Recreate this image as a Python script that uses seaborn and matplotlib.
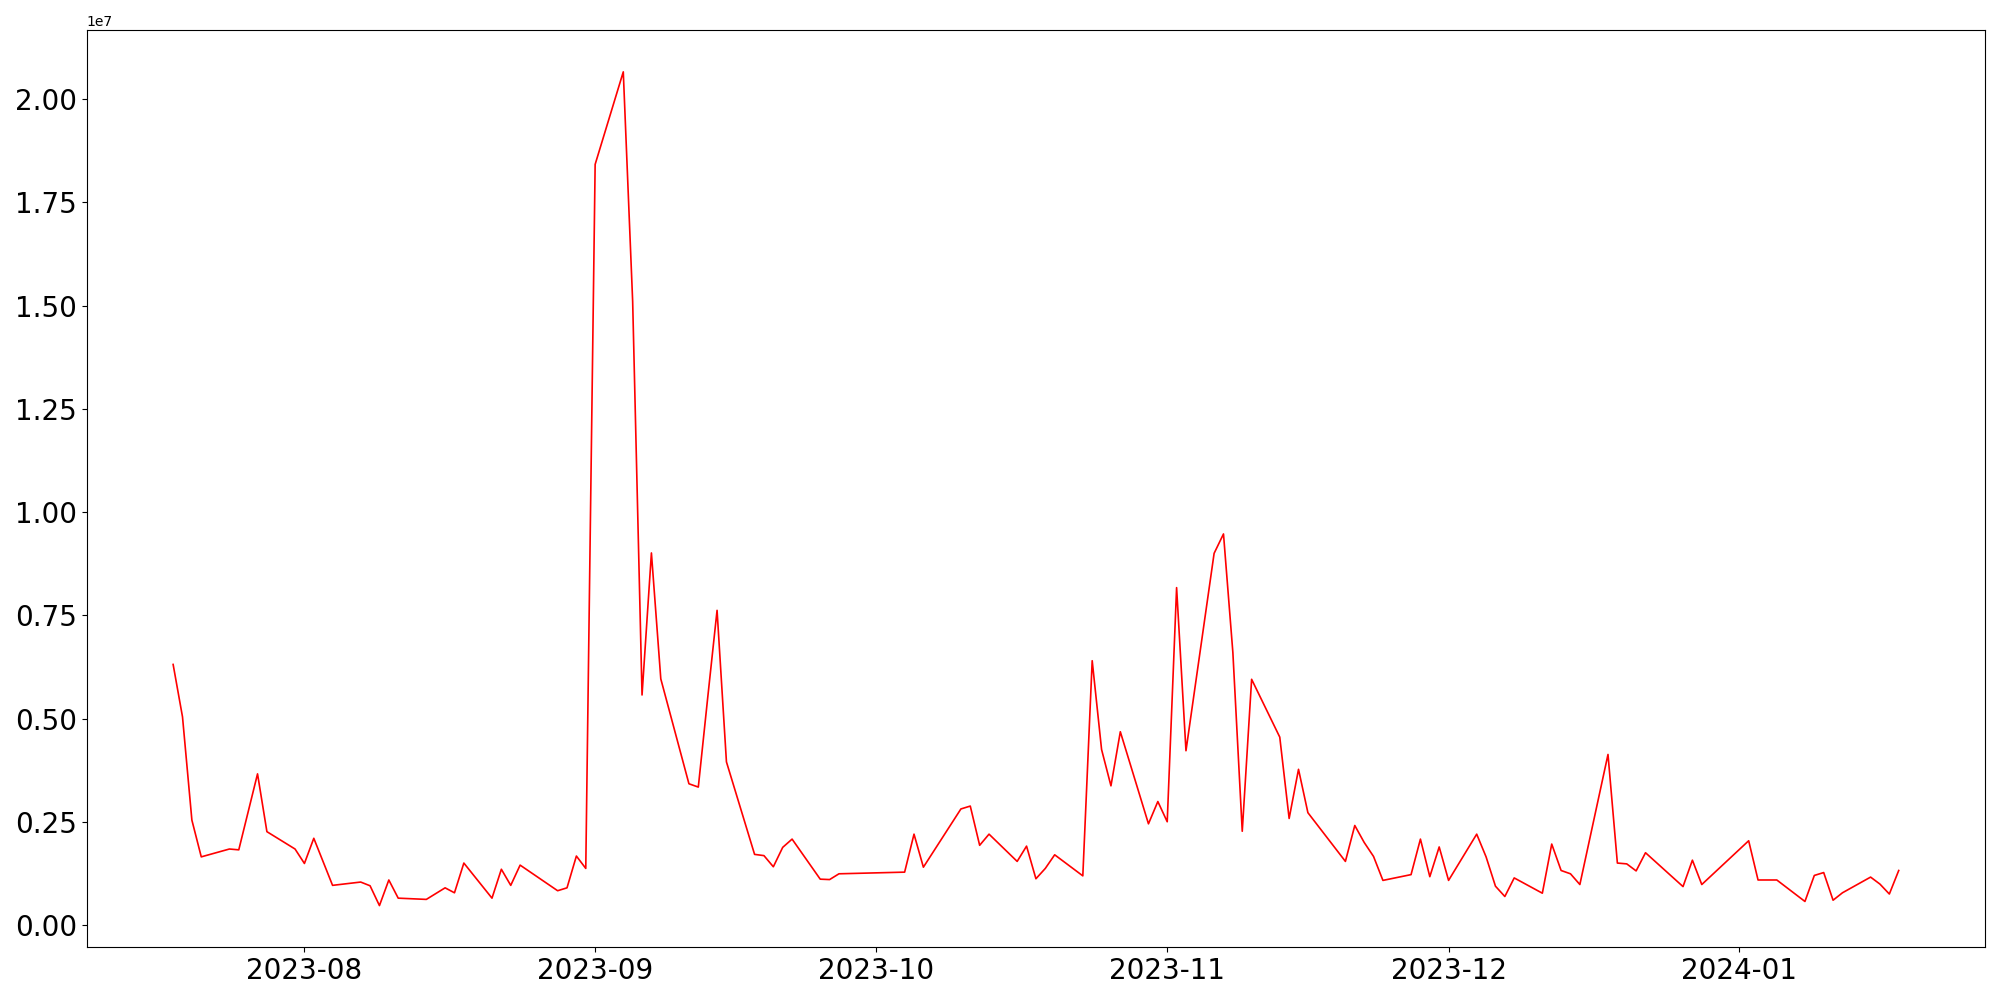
import matplotlib
matplotlib.use("Agg")
import matplotlib.pyplot as plt
import seaborn as sns
import pandas as pd

dates = [
    "2023-07-18", "2023-07-19", "2023-07-20", "2023-07-21", "2023-07-24", "2023-07-25",
    "2023-07-27", "2023-07-28", "2023-07-31", "2023-08-01", "2023-08-02", "2023-08-04",
    "2023-08-07", "2023-08-08", "2023-08-09", "2023-08-10", "2023-08-11", "2023-08-14",
    "2023-08-16", "2023-08-17", "2023-08-18", "2023-08-21", "2023-08-22", "2023-08-23",
    "2023-08-24", "2023-08-28", "2023-08-29", "2023-08-30", "2023-08-31", "2023-09-01",
    "2023-09-04", "2023-09-05", "2023-09-06", "2023-09-07", "2023-09-08", "2023-09-11",
    "2023-09-12", "2023-09-13", "2023-09-14", "2023-09-15", "2023-09-18", "2023-09-19",
    "2023-09-20", "2023-09-21", "2023-09-22", "2023-09-25", "2023-09-26", "2023-09-27",
    "2023-10-04", "2023-10-05", "2023-10-06", "2023-10-10", "2023-10-11", "2023-10-12",
    "2023-10-13", "2023-10-16", "2023-10-17", "2023-10-18", "2023-10-19", "2023-10-20",
    "2023-10-23", "2023-10-24", "2023-10-25", "2023-10-26", "2023-10-27", "2023-10-30",
    "2023-10-31", "2023-11-01", "2023-11-02", "2023-11-03", "2023-11-06", "2023-11-07",
    "2023-11-08", "2023-11-09", "2023-11-10", "2023-11-13", "2023-11-14", "2023-11-15",
    "2023-11-16", "2023-11-20", "2023-11-21", "2023-11-22", "2023-11-23", "2023-11-24",
    "2023-11-27", "2023-11-28", "2023-11-29", "2023-11-30", "2023-12-01", "2023-12-04",
    "2023-12-05", "2023-12-06", "2023-12-07", "2023-12-08", "2023-12-11", "2023-12-12",
    "2023-12-13", "2023-12-14", "2023-12-15", "2023-12-18", "2023-12-19", "2023-12-20",
    "2023-12-21", "2023-12-22", "2023-12-26", "2023-12-27", "2023-12-28", "2024-01-02",
    "2024-01-03", "2024-01-05", "2024-01-08", "2024-01-09", "2024-01-10", "2024-01-11",
    "2024-01-12", "2024-01-15", "2024-01-16", "2024-01-17", "2024-01-18",
]

values = [
    6.31e6, 5.04e6, 2.54e6, 1.65e6, 1.84e6, 1.82e6,
    3.66e6, 2.26e6, 1.84e6, 1.49e6, 2.10e6, 0.96e6,
    1.04e6, 0.95e6, 0.47e6, 1.09e6, 0.65e6, 0.62e6,
    0.90e6, 0.78e6, 1.50e6, 0.65e6, 1.35e6, 0.96e6,
    1.45e6, 0.83e6, 0.90e6, 1.67e6, 1.37e6, 18.42e6,
    20.66e6, 15.1e6, 5.57e6, 9.01e6, 5.96e6, 3.42e6,
    3.34e6, 5.5e6, 7.62e6, 3.95e6, 1.71e6, 1.68e6,
    1.41e6, 1.88e6, 2.08e6, 1.11e6, 1.10e6, 1.24e6,
    1.28e6, 2.20e6, 1.40e6, 2.81e6, 2.88e6, 1.93e6,
    2.20e6, 1.54e6, 1.91e6, 1.12e6, 1.37e6, 1.70e6,
    1.19e6, 6.40e6, 4.25e6, 3.37e6, 4.68e6, 2.45e6,
    2.99e6, 2.50e6, 8.17e6, 4.22e6, 9.00e6, 9.47e6,
    6.60e6, 2.27e6, 5.95e6, 4.55e6, 2.58e6, 3.77e6,
    2.72e6, 1.54e6, 2.41e6, 2.00e6, 1.66e6, 1.08e6,
    1.22e6, 2.08e6, 1.17e6, 1.89e6, 1.08e6, 2.20e6,
    1.65e6, 0.94e6, 0.69e6, 1.14e6, 0.77e6, 1.96e6,
    1.32e6, 1.24e6, 0.98e6, 4.13e6, 1.50e6, 1.48e6,
    1.31e6, 1.75e6, 0.93e6, 1.57e6, 0.98e6, 2.04e6,
    1.09e6, 1.09e6, 0.57e6, 1.20e6, 1.27e6, 0.60e6,
    0.78e6, 1.16e6, 0.99e6, 0.75e6, 1.32e6,
]

df = pd.DataFrame({"date": pd.to_datetime(dates), "value": values})

fig, ax = plt.subplots(figsize=(20, 10), dpi=100)
sns.lineplot(data=df, x="date", y="value", color="red", linewidth=1.2, ax=ax)
ax.set_xlabel("")
ax.set_ylabel("")
plt.xticks(fontsize=20)
plt.yticks(fontsize=20)
fig.tight_layout()
fig.savefig("out.png", dpi=100)
